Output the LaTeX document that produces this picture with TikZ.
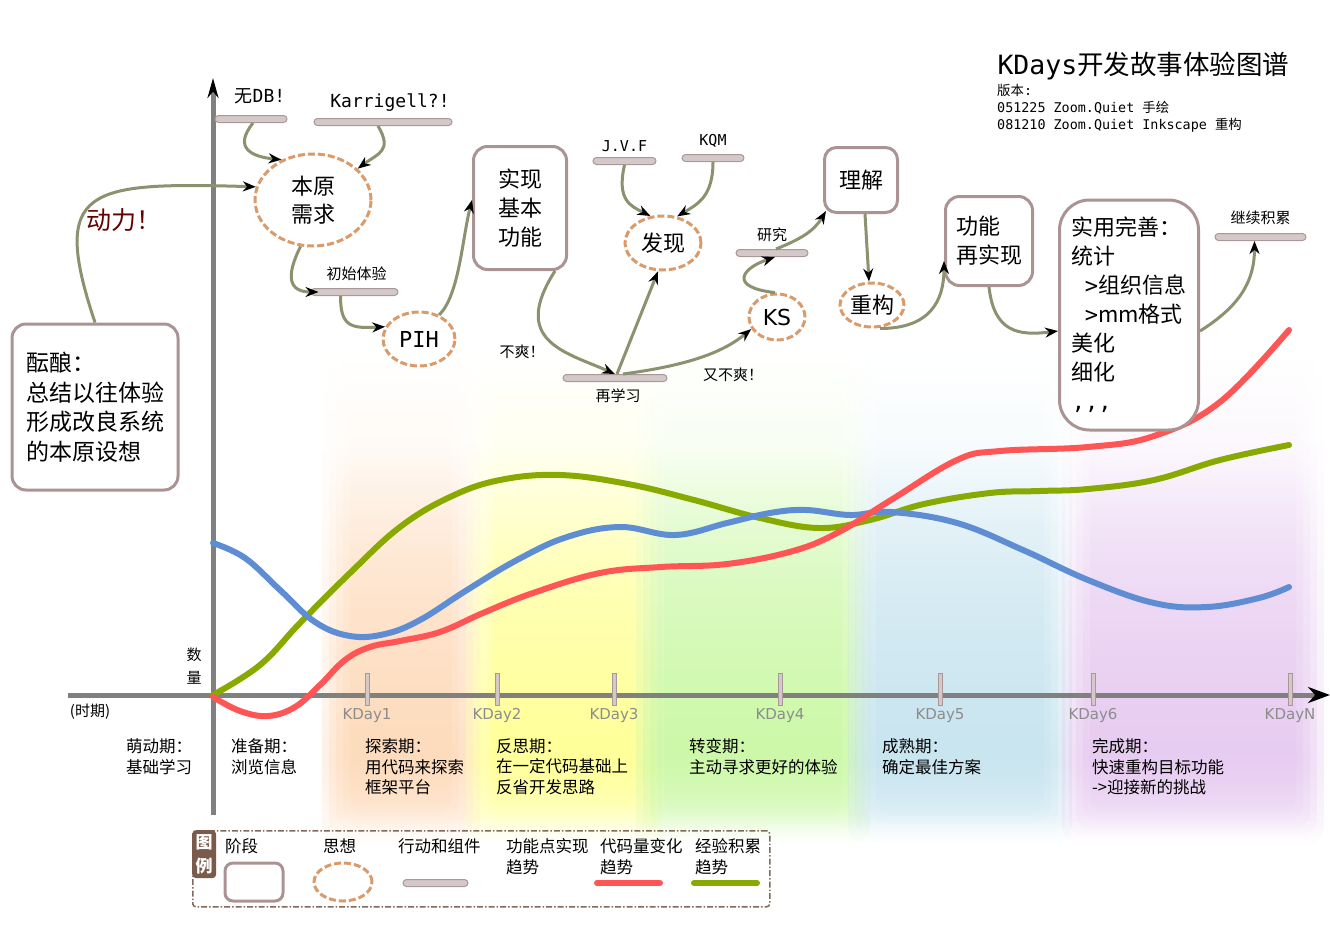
\documentclass[tikz,border=0pt]{standalone}
\usepackage{fontspec}
\setmainfont{Noto Sans CJK SC}
\newfontfamily\cjk{Noto Sans CJK SC}
\newfontfamily\mono{DejaVu Sans Mono}
\newfontfamily\dsans{DejaVu Sans}
\usepackage{tikz}
\usetikzlibrary{positioning,shapes.geometric,arrows.meta,fadings}
\newcommand\fsz[2]{\fontsize{#1}{#2}\selectfont}
\definecolor{boxline}{HTML}{AC9393}
\definecolor{idealine}{HTML}{DA9A6A}
\definecolor{barfill}{HTML}{D4C8C8}
\definecolor{barline}{HTML}{A89898}
\definecolor{flowline}{HTML}{8A9270}
\definecolor{axisgray}{HTML}{808080}
\definecolor{daygray}{HTML}{8C8C8C}
\definecolor{linered}{HTML}{FF5555}
\definecolor{linegreen}{HTML}{88AA00}
\definecolor{lineblue}{HTML}{5F8DD3}
\definecolor{pushred}{HTML}{660000}
\definecolor{framebrown}{HTML}{806A5E}
\definecolor{tagbrown}{HTML}{7A5A4A}
\definecolor{bandA}{HTML}{FDD5B1}
\definecolor{bandB}{HTML}{FFFF88}
\definecolor{bandC}{HTML}{C4F79A}
\definecolor{bandD}{HTML}{BFE0EC}
\definecolor{bandE}{HTML}{E3C3EE}
\pgfdeclareverticalshading{bandshade}{100bp}{color(0bp)=(transparent!100); color(25bp)=(transparent!100); color(27.5bp)=(transparent!45); color(33bp)=(transparent!0); color(52bp)=(transparent!50); color(65bp)=(transparent!92); color(75bp)=(transparent!100); color(100bp)=(transparent!100)}
\pgfdeclarefading{bandfade}{\pgfuseshading{bandshade}}
\tikzset{
	stage/.style={
		rectangle,
		rounded corners=14pt,
		draw=boxline,
		line width=3pt,
		fill=white,
		inner sep=4pt,
		font=\fsz{22}{29}
	},
	idea/.style={
		ellipse,
		draw=idealine,
		line width=3pt,
		dash pattern=on 7pt off 3pt,
		fill=white,
		inner sep=0pt,
		font=\fsz{22}{28}
	},
	act/.style={
		rectangle,
		rounded corners=3.5pt,
		draw=barline,
		line width=1pt,
		fill=barfill,
		minimum height=7pt,
		inner sep=0pt
	},
	actlabel/.style={inner sep=1pt, font=\fsz{15}{18}},
	flow/.style={draw=flowline, line width=3pt, -{Stealth[length=13pt,width=10pt,color=black]}},
	trend/.style={line width=6pt, line cap=round},
	tick/.style={rectangle, draw=barline, fill=barfill, line width=0.8pt, minimum width=4pt, minimum height=32pt, inner sep=0pt},
	daylabel/.style={text=daygray, font=\dsans\fsz{15}{18}, inner sep=1pt},
	phase/.style={anchor=north west, align=left, inner sep=0pt, font=\fsz{16.5}{20.5}},
	legtext/.style={anchor=west, inner sep=0pt, font=\fsz{16.5}{21}},
	band/.style={path fading=bandfade, rounded corners=20pt, opacity=0.32}
}
% soft band: colour, x1, y1, x2, y2
\newcommand\softband[5]{%
	\foreach \k in {0,...,4}{
		\fill[#1, band] (#2+7*\k, #3+7*\k) rectangle (#4-7*\k, #5-7*\k);
	}
}
\begin{document}
\begin{tikzpicture}[x=1pt, y=-1pt]
	\useasboundingbox (0,0) rectangle (1330,950);
	% phase bands
	\softband{bandA}{322}{340}{480}{845}
	\softband{bandB}{466}{340}{662}{845}
	\softband{bandC}{636}{340}{870}{845}
	\softband{bandD}{848}{340}{1072}{845}
	\softband{bandE}{1062}{340}{1324}{845}
	% axes
	\coordinate (ybot) at (213,815);
	\coordinate (ytop) at (213,78);
	\coordinate (xleft) at (68,695);
	\coordinate (xright) at (1330,695);
	\draw[draw=axisgray, line width=5pt, -{Stealth[length=20pt,width=11pt,color=black]}] (ybot) -- (ytop);
	\draw[draw=axisgray, line width=5pt, -{Stealth[length=22pt,width=16pt,color=black]}] (xleft) -- (xright);
	\node[font=\fsz{15}{23}, align=center] (qty) at (194,666) {数\\量};
	\node[font=\fsz{15}{18}] (period) at (90,712) {(时期)};
	\node[tick] (k1) at (367,689) {};
	\node[tick] (k2) at (497,689) {};
	\node[tick] (k3) at (614,689) {};
	\node[tick] (k4) at (780,689) {};
	\node[tick] (k5) at (940,689) {};
	\node[tick] (k6) at (1093,689) {};
	\node[tick] (kn) at (1290,689) {};
	\node[daylabel, below=2pt of k1] (k1t) {KDay1};
	\node[daylabel, below=2pt of k2] (k2t) {KDay2};
	\node[daylabel, below=2pt of k3] (k3t) {KDay3};
	\node[daylabel, below=2pt of k4] (k4t) {KDay4};
	\node[daylabel, below=2pt of k5] (k5t) {KDay5};
	\node[daylabel, below=2pt of k6] (k6t) {KDay6};
	\node[daylabel, below=2pt of kn] (knt) {KDayN};
	% phases
	\node[phase] (p0) at (126,738.5) {萌动期：\\基础学习};
	\node[phase] (p1) at (231,738.5) {准备期：\\浏览信息};
	\node[phase] (p2) at (365,738.5) {探索期：\\用代码来探索\\框架平台};
	\node[phase] (p3) at (496,738.5) {反思期：\\在一定代码基础上\\反省开发思路};
	\node[phase] (p4) at (689,738.5) {转变期：\\主动寻求更好的体验};
	\node[phase] (p5) at (882,738.5) {成熟期：\\确定最佳方案};
	\node[phase] (p6) at (1092,738.5) {完成期：\\快速重构目标功能\\->迎接新的挑战};
	% trends
	\draw[trend, linegreen] plot[smooth, tension=0.65] coordinates {(213,695) (260,665) (300,623) (350,573) (400,527) (450,497) (500,480) (560,475) (628,484) (694,500) (760,518) (819,528) (870,520) (924,504) (990,493) (1040,491) (1088,489) (1154,480) (1220,460) (1289,445)};
	\draw[trend, lineblue] plot[smooth, tension=0.65] coordinates {(213,543) (245,558) (280,590) (315,622) (350,636) (385,634) (420,620) (467,590) (517,560) (567,537) (620,527) (675,535) (727,523) (770,513) (806,510) (850,515) (891,512) (957,523) (1023,550) (1088,580) (1154,603) (1207,607) (1259,598) (1289,587)};
	\draw[trend, linered] plot[smooth, tension=0.65] coordinates {(213,697) (240,711) (268,716) (295,707) (320,685) (345,660) (370,647) (400,641) (440,632) (483,613) (533,593) (600,573) (661,567) (727,564) (793,551) (839,532) (891,500) (957,460) (1000,451) (1088,447) (1154,436) (1220,402) (1289,330)};
	% title
	\node[anchor=west, font=\fsz{26.5}{30}] (title) at (994,66) {{\mono KDays}开发故事体验图谱};
	\node[anchor=north west, align=left, inner sep=0pt, font=\mono\fsz{13.4}{17}] (ver) at (997,84) {{\cjk 版本}:\\051225 Zoom.Quiet {\cjk 手绘}\\081210 Zoom.Quiet Inkscape {\cjk 重构}};
	% stages and ideas
	\node[stage, minimum width=166pt, minimum height=166pt, align=left, font=\fsz{23}{29.5}] (brew) at (95,407) {酝酿：\\总结以往体验\\形成改良系统\\的本原设想};
	\node[stage, minimum width=93pt, minimum height=123pt, align=center] (impl) at (520,208) {实现\\基本\\功能};
	\node[stage, rounded corners=12pt, minimum width=73pt, minimum height=65pt] (grasp) at (861,180) {理解};
	\node[stage, minimum width=87pt, minimum height=89pt, align=left] (again) at (989,241) {功能\\再实现};
	\node[stage, rounded corners=30pt, minimum width=139pt, minimum height=230pt, align=left] (perfect) at (1129,315) {实用完善：\\统计\\\hspace*{13pt}{\mono>}组织信息\\\hspace*{13pt}{\mono>}mm格式\\美化\\细化\\{\mono ,,,}};
	\node[idea, minimum width=116pt, minimum height=92pt, align=center] (need) at (313,200) {本原\\需求};
	\node[idea, minimum width=72pt, minimum height=54pt, font=\mono\fsz{22}{26}] (pih) at (419,339) {PIH};
	\node[idea, minimum width=76pt, minimum height=54pt] (find) at (663,243) {发现};
	\node[idea, minimum width=56pt, minimum height=46pt, font=\dsans\fsz{22}{26}] (ks) at (777,317) {KS};
	\node[idea, minimum width=64pt, minimum height=44pt] (refac) at (872,305) {重构};
	% actions
	\node[act, minimum width=72pt] (nodb) at (251,119) {};
	\node[act, minimum width=138pt] (karr) at (383,122) {};
	\node[act, minimum width=87pt] (init) at (354.5,292) {};
	\node[act, minimum width=104pt] (relearn) at (615,378) {};
	\node[act, minimum width=63pt] (jvf) at (624.5,161) {};
	\node[act, minimum width=62pt] (kqm) at (713,158) {};
	\node[act, minimum width=72pt] (study) at (772,253) {};
	\node[act, minimum width=91pt] (accum) at (1260.5,237) {};
	\node[actlabel, font=\fsz{18}{22}, above=10pt of nodb, xshift=9pt] (nodbtxt) {无{\mono DB!}};
	\node[actlabel, font=\mono\fsz{18}{22}, above=5pt of karr, xshift=7pt] (karrtxt) {Karrigell?!};
	\node[actlabel, above=6pt of init, xshift=2pt] (inittxt) {初始体验};
	\node[actlabel, below=6pt of relearn, xshift=3pt] (relearntxt) {再学习};
	\node[actlabel, font=\mono\fsz{15}{18}, above=4pt of jvf] (jvftxt) {J.V.F};
	\node[actlabel, font=\mono\fsz{15}{18}, above=5pt of kqm] (kqmtxt) {KQM};
	\node[actlabel, above=6pt of study] (studytxt) {研究};
	\node[actlabel, above=7pt of accum] (accumtxt) {继续积累};
	% flow
	\node[font=\fsz{25}{28}, text=pushred] (push) at (124,220) {动力！};
	\node[font=\fsz{15}{18}] (annoy) at (522,352) {不爽！};
	\node[font=\fsz{15}{18}] (annoyagain) at (733,375) {又不爽！};
	\draw[flow] (brew.north) .. controls +(-45,-135) and +(-170,-5) .. (need.167);
	\draw[flow] ([xshift=2pt]nodb.south) .. controls +(-20,25) and +(-30,-3) .. (need.128);
	\draw[flow] ([xshift=-5pt]karr.south) .. controls +(15,25) and +(20,-15) .. (need.35);
	\draw[flow] (need.255) .. controls +(-15,30) and +(-30,0) .. ([xshift=8pt]init.west);
	\draw[flow] ([xshift=-14pt]init.south) .. controls +(0,30) and +(-35,2) .. (pih.160);
	\draw[flow] (pih.50) .. controls +(20,-20) and +(-10,40) .. ([yshift=8pt]impl.west);
	\draw[flow] ([xshift=35pt]impl.south) .. controls +(-45,70) and +(-50,-22) .. (relearn.north);
	\draw[flow] ([xshift=2pt]relearn.north) -- (find.260);
	\draw[flow] ([xshift=8pt]relearn.north) .. controls +(60,-8) and +(-30,25) .. (ks.205);
	\draw[flow] (jvf.south) .. controls +(-8,35) and +(-20,-10) .. (find.115);
	\draw[flow] (kqm.south) .. controls +(0,35) and +(20,-12) .. (find.62);
	\draw[flow] (ks.95) .. controls +(-45,-5) and +(-35,12) .. ([xshift=3pt]study.south);
	\draw[flow] ([xshift=4pt]study.north) .. controls +(25,-10) and +(-12,20) .. ([xshift=3pt,yshift=3pt]grasp.south west);
	\draw[flow] ([xshift=4pt]grasp.south) -- ([xshift=-3pt]refac.north);
	\draw[flow] ([xshift=8pt]refac.south) .. controls +(50,0) and +(0,40) .. ([yshift=-20pt]again.west);
	\draw[flow] (again.south) .. controls +(5,45) and +(-40,5) .. ([yshift=-16pt]perfect.west);
	\draw[flow] ([yshift=-16pt]perfect.east) .. controls +(40,-25) and +(0,40) .. ([xshift=-6pt]accum.south);
	% legend
	\node[draw=framebrown, line width=1.5pt, dash pattern=on 6pt off 2pt on 1.5pt off 2pt, rounded corners=3pt, minimum width=577pt, minimum height=76pt, anchor=north west, inner sep=0pt] (legend) at (192,830) {};
	\node[fill=tagbrown, rounded corners=4pt, text=white, align=center, anchor=north west, minimum width=24pt, minimum height=48pt, inner sep=0pt, font=\bfseries\fsz{17}{24}] (tag) at (legend.north west) {图\\例};
	\node[legtext] (lstage) at (225,846) {阶段};
	\node[stage, rounded corners=8pt, minimum width=58pt, minimum height=38pt] (lstagebox) at (254,882) {};
	\node[legtext] (lidea) at (323,846) {思想};
	\node[idea, minimum width=58pt, minimum height=38pt] (lideabox) at (343,882) {};
	\node[legtext] (lact) at (398,846) {行动和组件};
	\node[act, minimum width=65pt] (lactbar) at (435.5,883) {};
	\node[legtext, anchor=north west, align=left] (lfeat) at (506,838) {功能点实现\\趋势};
	\node[legtext, anchor=north west, align=left] (lcode) at (600,838) {代码量变化\\趋势};
	\node[legtext, anchor=north west, align=left] (lexp) at (695,838) {经验积累\\趋势};
	\draw[trend, linered] (597,883) -- (660,883);
	\draw[trend, linegreen] (694,883) -- (757,883);
\end{tikzpicture}
\end{document}
